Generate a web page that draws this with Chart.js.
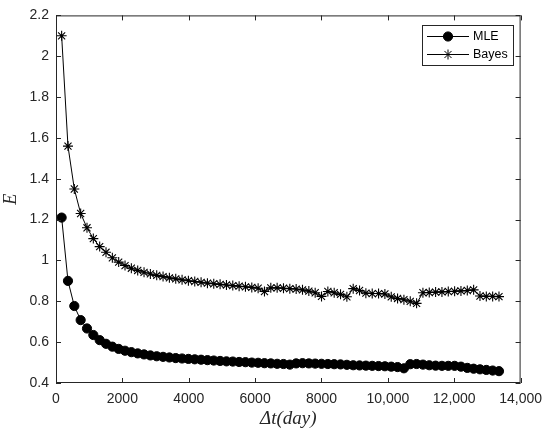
<!DOCTYPE html>
<html>
<head>
<meta charset="utf-8">
<script src="https://cdn.jsdelivr.net/npm/chart.js@4"></script>
<style>
  body { margin: 0; background: #fff; }
  canvas { display: block; }
</style>
</head>
<body>
<canvas id="chart" width="550" height="435"></canvas>
<script>
const days = [170, 361, 552, 743, 934, 1125, 1316, 1507, 1698, 1889, 2080, 2271, 2462, 2653, 2844, 3035, 3226, 3417, 3608, 3799,
  3990, 4181, 4372, 4563, 4754, 4945, 5136, 5327, 5518, 5709, 5900, 6091, 6282, 6473, 6664, 6855, 7046, 7237, 7428, 7619,
  7810, 8001, 8192, 8383, 8574, 8765, 8956, 9147, 9338, 9529, 9720, 9911, 10102, 10293, 10484, 10675, 10866, 11057, 11248, 11439,
  11630, 11821, 12012, 12203, 12394, 12585, 12776, 12967, 13158, 13349];

const mle = [1.21, 0.90, 0.777, 0.708, 0.667, 0.635, 0.610, 0.592, 0.578, 0.567, 0.558, 0.551, 0.545, 0.540, 0.535, 0.531, 0.528, 0.525, 0.522, 0.520,
  0.518, 0.516, 0.514, 0.512, 0.510, 0.508, 0.506, 0.505, 0.503, 0.502, 0.500, 0.499, 0.497, 0.496, 0.494, 0.493, 0.490, 0.496, 0.497, 0.496,
  0.495, 0.494, 0.493, 0.492, 0.491, 0.489, 0.487, 0.486, 0.485, 0.484, 0.483, 0.482, 0.480, 0.478, 0.472, 0.492, 0.493, 0.490, 0.487, 0.485,
  0.484, 0.484, 0.484, 0.480, 0.474, 0.470, 0.467, 0.464, 0.461, 0.458];

const bayes = [2.10, 1.56, 1.35, 1.23, 1.16, 1.107, 1.068, 1.04, 1.013, 0.992, 0.975, 0.962, 0.951, 0.942, 0.934, 0.927, 0.921, 0.915, 0.910, 0.905,
  0.901, 0.897, 0.893, 0.889, 0.886, 0.883, 0.880, 0.877, 0.874, 0.871, 0.868, 0.864, 0.848, 0.866, 0.866, 0.864, 0.862, 0.860, 0.856, 0.850,
  0.842, 0.824, 0.848, 0.842, 0.834, 0.822, 0.862, 0.853, 0.840, 0.838, 0.838, 0.836, 0.822, 0.814, 0.808, 0.800, 0.790, 0.842, 0.843, 0.845,
  0.846, 0.848, 0.849, 0.851, 0.853, 0.856, 0.826, 0.824, 0.824, 0.823];

const xTickLabels = ['0', '2000', '4000', '6000', '8000', '10,000', '12,000', '14,000'];
const yTickLabels = ['0.4', '0.6', '0.8', '1', '1.2', '1.4', '1.6', '1.8', '2', '2.2'];

const ink = '#262626';

// box round the plot, ticks pointing inward, legend with line + marker
const frame = {
  id: 'frame',
  afterDatasetsDraw(chart) {
    const g = chart.ctx;
    const a = chart.chartArea;
    const xs = chart.scales.x, ys = chart.scales.y;
    g.save();
    g.strokeStyle = ink;
    g.lineWidth = 1;
    g.strokeRect(a.left + .5, a.top + .5, a.right - a.left - 1, a.bottom - a.top - 1);
    g.beginPath();
    xs.ticks.forEach((t) => {
      const px = Math.round(xs.getPixelForValue(t.value)) + .5;
      g.moveTo(px, a.bottom); g.lineTo(px, a.bottom - 5);
      g.moveTo(px, a.top); g.lineTo(px, a.top + 5);
    });
    ys.ticks.forEach((t) => {
      const py = Math.round(ys.getPixelForValue(t.value)) + .5;
      g.moveTo(a.left, py); g.lineTo(a.left + 5, py);
      g.moveTo(a.right, py); g.lineTo(a.right - 5, py);
    });
    g.stroke();

    // legend
    const lx = 422, ly = 25, lw = 91, lh = 40;
    g.fillStyle = '#fff';
    g.fillRect(lx, ly, lw, lh);
    g.strokeRect(lx + .5, ly + .5, lw, lh);
    g.font = '12.5px "Liberation Sans", Arial, sans-serif';
    g.textBaseline = 'middle';
    chart.data.datasets.forEach((ds, i) => {
      const y = ly + 11 + i * 18;
      g.strokeStyle = '#000';
      g.fillStyle = '#000';
      g.beginPath(); g.moveTo(lx + 5, y + .5); g.lineTo(lx + 47, y + .5); g.stroke();
      Chart.helpers.drawPoint(g, {
        pointStyle: ds.pointStyle, rotation: 0, radius: ds.pointRadius, borderWidth: ds.pointBorderWidth
      }, lx + 26, y + .5);
      g.textAlign = 'left';
      g.fillText(ds.label, lx + 51, y + 1);
    });
    g.restore();
  }
};

new Chart(document.getElementById('chart'), {
  type: 'line',
  data: {
    datasets: [
      {
        label: 'MLE',
        data: days.map((d, i) => ({ x: d, y: mle[i] })),
        borderColor: '#000', backgroundColor: '#000', borderWidth: 1,
        pointStyle: 'circle', pointRadius: 4.6, pointBorderWidth: 1,
        pointBackgroundColor: '#000', pointBorderColor: '#000', tension: 0
      },
      {
        label: 'Bayes',
        data: days.map((d, i) => ({ x: d, y: bayes[i] })),
        borderColor: '#000', backgroundColor: '#000', borderWidth: 1,
        pointStyle: 'star', pointRadius: 5, pointBorderWidth: 1.1,
        pointBackgroundColor: '#000', pointBorderColor: '#000', tension: 0
      }
    ]
  },
  options: {
    responsive: false,
    animation: false,
    layout: { padding: { top: 14, right: 26, left: 0, bottom: 0 } },
    plugins: { legend: { display: false }, tooltip: { enabled: false } },
    scales: {
      x: {
        type: 'linear', min: 0, max: 14000,
        afterFit: (s) => { s.height = 52; },
        grid: { display: false, drawTicks: false, tickLength: 0 }, border: { display: false },
        ticks: {
          stepSize: 2000, maxRotation: 0, padding: 8, color: ink,
          font: { family: '"Liberation Sans", Arial, sans-serif', size: 14 },
          callback: (v, i) => xTickLabels[i]
        },
        title: {
          display: true, text: 'Δt(day)', color: ink, padding: { top: 0, bottom: 5 },
          font: { family: '"Liberation Serif", "DejaVu Serif", serif', size: 19, style: 'italic' }
        }
      },
      y: {
        type: 'linear', min: 0.4, max: 2.2,
        afterFit: (s) => { s.width = 56; },
        grid: { display: false, drawTicks: false, tickLength: 0 }, border: { display: false },
        ticks: {
          stepSize: 0.2, padding: 7, color: ink,
          font: { family: '"Liberation Sans", Arial, sans-serif', size: 14 },
          callback: (v, i) => yTickLabels[i]
        },
        title: {
          display: true, text: 'E', color: ink, padding: { top: 0, bottom: 0 },
          font: { family: '"Liberation Serif", "DejaVu Serif", serif', size: 18, style: 'italic' }
        }
      }
    }
  },
  plugins: [frame]
});
</script>
</body>
</html>
